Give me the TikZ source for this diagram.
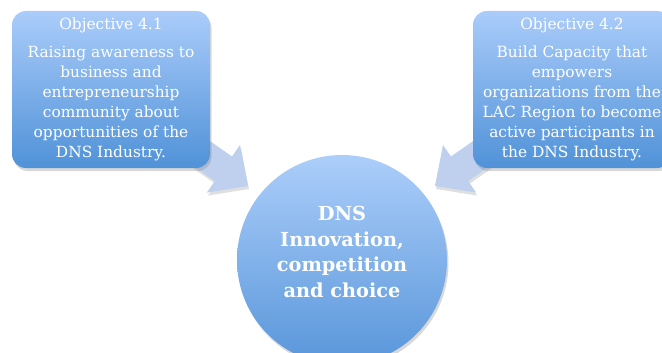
\documentclass[tikz,border=0pt]{standalone}
\usepackage{fontspec}
\setmainfont{DejaVu Serif}
\usetikzlibrary{shadows}
\definecolor{boxtop}{RGB}{170,204,250}
\definecolor{boxbot}{RGB}{80,146,216}
\definecolor{hubtop}{RGB}{172,206,250}
\definecolor{hubbot}{RGB}{88,150,218}
\definecolor{arrowfill}{RGB}{190,208,238}
\begin{document}
\begin{tikzpicture}[x=1pt,y=-1pt]
\tikzset{
  objbox/.style={rounded corners=14pt, minimum width=198pt, minimum height=157pt,
    top color=boxtop, bottom color=boxbot, text=white, align=center, inner sep=0pt,
    font=\fontsize{15.4}{20}\selectfont,
    drop shadow={shadow xshift=1.5pt, shadow yshift=-3pt, opacity=0.3}},
  hub/.style={circle, minimum size=210pt, inner sep=0pt,
    top color=hubtop, bottom color=hubbot,
    drop shadow={shadow xshift=1.5pt, shadow yshift=-3pt, opacity=0.3}},
  hubtext/.style={text=white, align=center, font=\fontsize{19.3}{25.5}\selectfont\bfseries},
  blockarrow/.style={fill=arrowfill, draw=none,
    drop shadow={shadow xshift=1pt, shadow yshift=-3pt, opacity=0.25}},
}
\useasboundingbox (0,0) rectangle (662,353);
\fill[white] (0,0) rectangle (662,353);
\clip (0,0) rectangle (662,353);

% block arrows (behind boxes)
\path[blockarrow] (174.7,116.3) -- (232.0,156.5) -- (240.0,145.0) -- (248,186)
  -- (206.8,192.6) -- (214.8,181.1) -- (157.5,140.9) -- cycle;
\path[blockarrow] (508.3,116.3) -- (451.0,156.5) -- (443.0,145.0) -- (435,186)
  -- (476.2,192.6) -- (468.2,181.1) -- (525.5,140.9) -- cycle;

% objective boxes
\node[objbox] (o1) at (111,89.5) {Objective 4.1\\[8pt]Raising awareness to\\business and\\entrepreneurship\\community about\\opportunities of the\\DNS Industry.};
\node[objbox] (o2) at (572,89.5) {Objective 4.2\\[8pt]Build Capacity that\\empowers\\organizations from the\\LAC Region to become\\active participants in\\the DNS Industry.};

% hub
\node[hub] (c) at (342,260) {};
\node[hubtext] (ct) at (342,252) {DNS\\Innovation,\\competition\\and choice};
\end{tikzpicture}
\end{document}
